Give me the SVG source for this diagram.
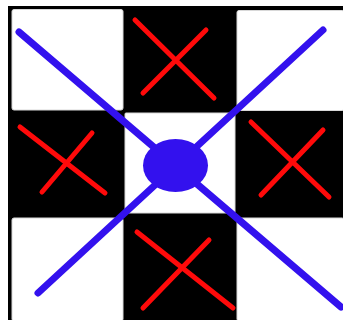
<svg xmlns="http://www.w3.org/2000/svg" width="343" height="320" viewBox="0 0 343 320">
<style>
.w{fill:#ffffff;stroke:#d8d8d8;stroke-width:1}
.x{stroke:#ff0a0a;stroke-width:5;stroke-linecap:round;fill:none}
.b{stroke:#3311ee;stroke-width:7;stroke-linecap:round;fill:none}
</style>
<rect width="343" height="320" fill="#ffffff"/>
<g id="board">
<rect x="8" y="6" width="335" height="314" fill="#000000"/>
</g>
<g id="cell-tl"><rect class="w" x="12" y="9.5" width="111" height="100.5" rx="2"/></g>
<g id="cell-tr"><rect class="w" x="237" y="10.5" width="107" height="100" rx="2"/></g>
<g id="cell-c"><rect class="w" x="125" y="113" width="110" height="100" rx="1"/></g>
<g id="cell-bl"><rect class="w" x="12" y="218" width="111" height="103" rx="2"/></g>
<g id="cell-br"><rect class="w" x="237" y="218" width="107" height="103" rx="2"/></g>
<g id="cross-top"><line class="x" x1="135" y1="20" x2="214" y2="98"/><line class="x" x1="206" y1="30" x2="143" y2="93"/></g>
<g id="cross-left"><line class="x" x1="20" y1="127" x2="105" y2="193"/><line class="x" x1="92" y1="133" x2="42" y2="192"/></g>
<g id="cross-right"><line class="x" x1="251" y1="122" x2="329" y2="197"/><line class="x" x1="323" y1="130" x2="261" y2="195"/></g>
<g id="cross-bottom"><line class="x" x1="137" y1="232" x2="233" y2="308"/><line class="x" x1="209" y1="240" x2="143" y2="308"/></g>
<g id="connectors">
<line class="b" x1="19" y1="32" x2="341" y2="307"/>
<line class="b" x1="323" y1="30" x2="38" y2="293"/>
</g>
<g id="center-node"><ellipse cx="175.5" cy="165.5" rx="32.5" ry="26.5" fill="#3311ee"/></g>
</svg>
